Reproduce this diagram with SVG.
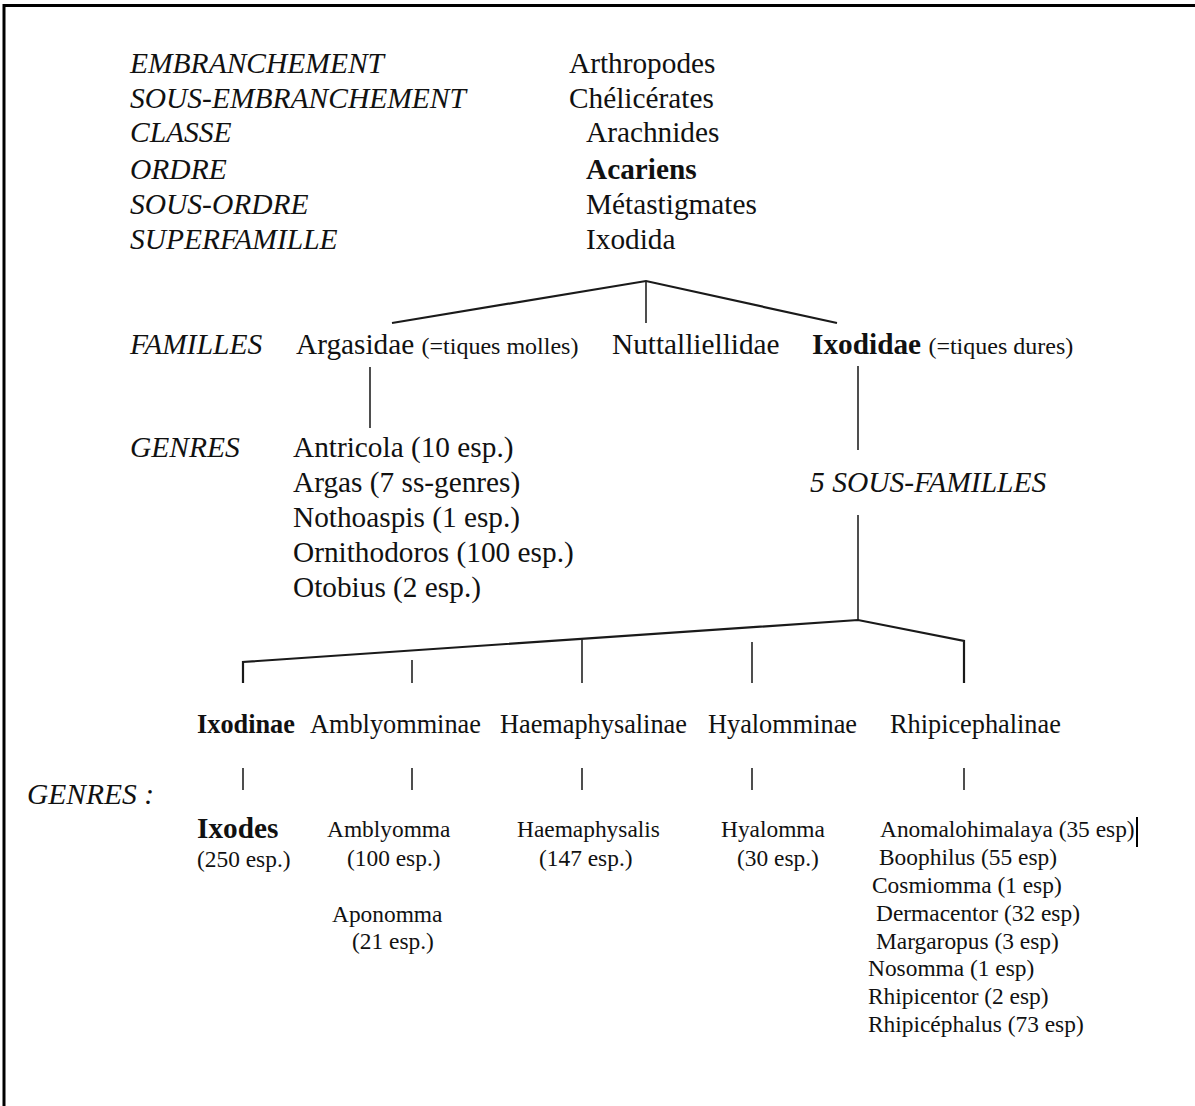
<svg xmlns="http://www.w3.org/2000/svg" width="1195" height="1106" viewBox="0 0 1195 1106">
<style>
text{font-family:"Liberation Serif","Times New Roman",serif;fill:#111}
.rk{font-style:italic;font-size:29.5px}
.m{font-size:29.3px}
.s{font-size:23.4px}
.xs{font-size:24px}
.sf{font-size:26.3px}
.b{font-weight:bold}
.ln{stroke:#1a1a1a;stroke-width:2.2;fill:none}
.tk{stroke:#222;stroke-width:1.6;fill:none}
</style>
<rect width="1195" height="1106" fill="#fff"/>
<g id="border">
<line x1="3" y1="5.5" x2="1195" y2="5.5" stroke="#000" stroke-width="3"/>
<line x1="4" y1="4" x2="4" y2="1106" stroke="#000" stroke-width="3"/>
</g>
<g id="ranks">
<text class="rk" x="130" y="73">EMBRANCHEMENT</text>
<text class="rk" x="130" y="108">SOUS-EMBRANCHEMENT</text>
<text class="rk" x="130" y="142">CLASSE</text>
<text class="rk" x="130" y="179">ORDRE</text>
<text class="rk" x="130" y="214">SOUS-ORDRE</text>
<text class="rk" x="130" y="249">SUPERFAMILLE</text>
<text class="rk" x="130" y="354">FAMILLES</text>
<text class="rk" x="130" y="457">GENRES</text>
<text class="rk" x="27" y="804">GENRES :</text>
</g>
<g id="taxa-top">
<text class="m" x="569" y="73">Arthropodes</text>
<text class="m" x="569" y="108">Chélicérates</text>
<text class="m" x="586" y="142">Arachnides</text>
<text class="m b" x="586" y="179">Acariens</text>
<text class="m" x="586" y="214">Métastigmates</text>
<text class="m" x="586" y="249">Ixodida</text>
</g>
<g id="connectors">
<polyline class="ln" points="392,323 646,281 837,323"/>
<line class="tk" x1="646" y1="281" x2="646" y2="323"/>
<line class="tk" x1="370" y1="367" x2="370" y2="428"/>
<line class="tk" x1="858" y1="366" x2="858" y2="450"/>
<line class="tk" x1="858" y1="515" x2="858" y2="620"/>
<polyline class="ln" points="243,683 243,662 858,620 964,641 964,683"/>
<line class="tk" x1="412" y1="660" x2="412" y2="683"/>
<line class="tk" x1="582" y1="639" x2="582" y2="683"/>
<line class="tk" x1="752" y1="642" x2="752" y2="683"/>
<line class="tk" x1="243" y1="768" x2="243" y2="790"/>
<line class="tk" x1="412" y1="768" x2="412" y2="790"/>
<line class="tk" x1="582" y1="768" x2="582" y2="790"/>
<line class="tk" x1="752" y1="768" x2="752" y2="790"/>
<line class="tk" x1="964" y1="768" x2="964" y2="790"/>
</g>
<g id="familles">
<text x="296" y="354"><tspan class="m">Argasidae </tspan><tspan class="xs">(=tiques molles)</tspan></text>
<text class="m" x="612" y="354">Nuttalliellidae</text>
<text x="812" y="354"><tspan class="m b">Ixodidae </tspan><tspan class="xs">(=tiques dures)</tspan></text>
</g>
<g id="genres-argasidae">
<text class="m" x="293" y="457">Antricola (10 esp.)</text>
<text class="m" x="293" y="492">Argas (7 ss-genres)</text>
<text class="m" x="293" y="527">Nothoaspis (1 esp.)</text>
<text class="m" x="293" y="562">Ornithodoros (100 esp.)</text>
<text class="m" x="293" y="597">Otobius (2 esp.)</text>
</g>
<g id="sous-familles">
<text class="rk" x="810" y="492">5 SOUS-FAMILLES</text>
</g>
<g id="subfamilies">
<text class="sf b" x="197" y="733">Ixodinae</text>
<text class="sf" x="310" y="733">Amblyomminae</text>
<text class="sf" x="500" y="733">Haemaphysalinae</text>
<text class="sf" x="708" y="733">Hyalomminae</text>
<text class="sf" x="890" y="733">Rhipicephalinae</text>
</g>
<g id="genres-ixodinae">
<text class="m b" x="197" y="838">Ixodes</text>
<text class="s" x="197" y="867">(250 esp.)</text>
</g>
<g id="genres-amblyomminae">
<text class="s" x="327" y="837">Amblyomma</text>
<text class="s" x="347" y="866">(100 esp.)</text>
<text class="s" x="332" y="922">Aponomma</text>
<text class="s" x="352" y="949">(21 esp.)</text>
</g>
<g id="genres-haemaphysalinae">
<text class="s" x="517" y="837">Haemaphysalis</text>
<text class="s" x="539" y="866">(147 esp.)</text>
</g>
<g id="genres-hyalomminae">
<text class="s" x="721" y="837">Hyalomma</text>
<text class="s" x="737" y="866">(30 esp.)</text>
</g>
<g id="genres-rhipicephalinae">
<text class="s" x="880" y="837">Anomalohimalaya (35 esp)</text>
<text class="s" x="879" y="865">Boophilus (55 esp)</text>
<text class="s" x="872" y="893">Cosmiomma (1 esp)</text>
<text class="s" x="876" y="921">Dermacentor (32 esp)</text>
<text class="s" x="876" y="949">Margaropus (3 esp)</text>
<text class="s" x="868" y="976">Nosomma (1 esp)</text>
<text class="s" x="868" y="1004">Rhipicentor (2 esp)</text>
<text class="s" x="868" y="1032">Rhipicéphalus (73 esp)</text>
<line x1="1137" y1="817" x2="1137" y2="847" stroke="#000" stroke-width="2"/>
</g>
</svg>
